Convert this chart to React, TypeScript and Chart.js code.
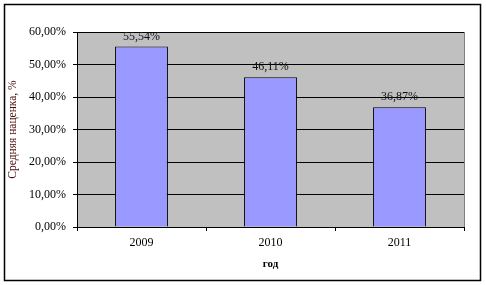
import React, { useEffect, useRef } from "react";
import { Chart, registerables } from "chart.js";

Chart.register(...registerables);

const categories = ["2009", "2010", "2011"];
const values = [55.54, 46.11, 36.87];
const yTicks = [0, 10, 20, 30, 40, 50, 60];
const yTitle = "Средняя наценка, %";
const xTitle = "год";

const FONT = '"Liberation Serif", "Times New Roman", serif';
const fmt = (v: number) => v.toFixed(2).replace(".", ",") + "%";

export default function App() {
  const ref = useRef<HTMLCanvasElement | null>(null);

  useEffect(() => {
    const canvas = ref.current;
    if (!canvas) return;

    const decor = {
      id: "decor",
      beforeDraw(chart: any) {
        const { ctx, chartArea: a } = chart;
        ctx.save();
        ctx.fillStyle = "#ffffff";
        ctx.fillRect(0, 0, chart.width, chart.height);
        ctx.strokeStyle = "#000000";
        ctx.lineWidth = 1.5;
        ctx.strokeRect(4.5, 4.5, 476, 276);
        ctx.fillStyle = "#c0c0c0";
        ctx.fillRect(a.left, a.top, a.right - a.left, a.bottom - a.top);
        ctx.restore();
      },
      beforeDatasetsDraw(chart: any) {
        const { ctx, chartArea: a } = chart;
        ctx.save();
        ctx.strokeStyle = "#808080";
        ctx.lineWidth = 1;
        ctx.beginPath();
        ctx.moveTo(a.right + 0.5, a.top);
        ctx.lineTo(a.right + 0.5, a.bottom);
        ctx.stroke();
        ctx.restore();
      },
      afterDatasetsDraw(chart: any) {
        const { ctx } = chart;
        const meta = chart.getDatasetMeta(0);
        ctx.save();
        ctx.font = `12px ${FONT}`;
        ctx.fillStyle = "#111111";
        ctx.textAlign = "center";
        ctx.textBaseline = "middle";
        meta.data.forEach((bar: any, i: number) => {
          ctx.fillText(fmt(values[i]), bar.x, bar.y - 10);
        });
        ctx.restore();
      },
    };

    const chart = new Chart(canvas, {
      type: "bar",
      data: {
        labels: categories,
        datasets: [
          {
            data: values,
            backgroundColor: "#9999ff",
            borderColor: "#000000",
            borderWidth: 1,
            barPercentage: 0.41,
            categoryPercentage: 1,
          },
        ],
      },
      options: {
        responsive: false,
        animation: false,
        devicePixelRatio: 1,
        layout: { padding: { left: 0, top: 32, right: 22, bottom: 0 } },
        plugins: {
          legend: { display: false },
          tooltip: { enabled: false },
        },
        scales: {
          x: {
            grid: {
              display: true,
              drawOnChartArea: false,
              drawTicks: true,
              tickLength: 4,
              color: "#000000",
              offset: true,
            },
            border: { display: true, color: "#000000", width: 1 },
            ticks: {
              color: "#000000",
              font: { family: FONT, size: 12 },
              padding: 5,
              maxRotation: 0,
            },
            title: {
              display: true,
              text: xTitle,
              color: "#000000",
              font: { family: FONT, size: 11, weight: "bold" },
              padding: { top: 0, bottom: 14 },
            },
            afterFit(scale: any) {
              scale.height = 58;
            },
          },
          y: {
            min: 0,
            max: 60,
            afterBuildTicks(scale: any) {
              scale.ticks = yTicks.map((v) => ({ value: v }));
            },
            grid: {
              color: "#000000",
              drawTicks: true,
              tickLength: 4,
            },
            border: { display: true, color: "#000000", width: 1 },
            ticks: {
              color: "#000000",
              font: { family: FONT, size: 12 },
              padding: 7,
              callback: (v: any) => fmt(Number(v)),
            },
            title: {
              display: true,
              text: yTitle,
              color: "#4a0c0c",
              font: { family: FONT, size: 11.5 },
              padding: { top: 6, bottom: 0 },
            },
            afterFit(scale: any) {
              scale.width = 77;
            },
          },
        },
      },
      plugins: [decor],
    });

    return () => chart.destroy();
  }, []);

  return (
    <div style={{ position: "fixed", left: 0, top: 0, width: 486, height: 285 }}>
      <canvas ref={ref} width={486} height={285} style={{ display: "block" }} />
    </div>
  );
}
